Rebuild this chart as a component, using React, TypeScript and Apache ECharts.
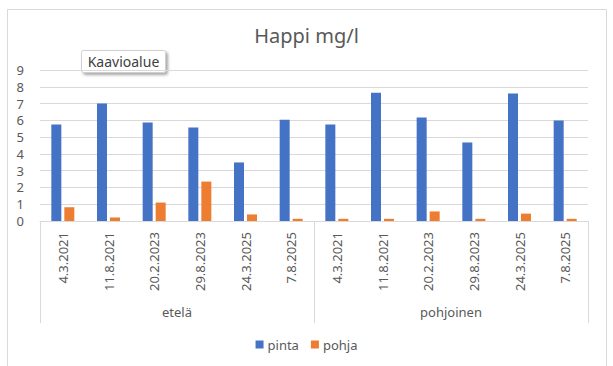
import React, { useEffect, useRef } from "react";
import * as echarts from "echarts";

const dates = [
  "4.3.2021", "11.8.2021", "20.2.2023", "29.8.2023", "24.3.2025", "7.8.2025",
  "4.3.2021", "11.8.2021", "20.2.2023", "29.8.2023", "24.3.2025", "7.8.2025",
];
const groups = ["etelä", "pohjoinen"];
const pinta = [5.75, 7.0, 5.87, 5.57, 3.49, 6.04, 5.75, 7.65, 6.17, 4.68, 7.6, 5.99];
const pohja = [0.82, 0.21, 1.1, 2.35, 0.39, 0.13, 0.13, 0.13, 0.57, 0.13, 0.44, 0.13];
const yTicks = { min: 0, max: 9, interval: 1 };

const FONT = "'Noto Sans', 'Open Sans', sans-serif";
const TXT = "#595959";
const GRID = "#d9d9d9";

export default function App() {
  const ref = useRef<HTMLDivElement>(null);
  useEffect(() => {
    document.body.style.margin = "0";
    const chart = echarts.init(ref.current!, null, { renderer: "svg" });
    chart.setOption({
      animation: false,
      backgroundColor: "#ffffff",
      textStyle: { fontFamily: FONT },
      title: {
        text: "Happi mg/l",
        left: "center",
        top: 25,
        padding: 0,
        textStyle: { fontFamily: FONT, fontSize: 20, fontWeight: "normal", color: TXT },
      },
      legend: {
        data: ["pinta", "pohja"],
        left: "center",
        top: 338,
        icon: "rect",
        itemWidth: 8,
        itemHeight: 8,
        itemGap: 12,
        padding: 0,
        textStyle: { fontFamily: FONT, fontSize: 13, color: TXT, padding: [0, 0, 0, -1] },
      },
      grid: { left: 40, right: 25, top: 70, bottom: 145, containLabel: false },
      xAxis: [
        {
          type: "category",
          data: dates,
          position: "bottom",
          axisLine: { show: true, lineStyle: { color: GRID } },
          axisTick: { show: false },
          axisLabel: {
            rotate: 90,
            interval: 0,
            margin: 11,
            fontSize: 13,
            fontFamily: FONT,
            color: TXT,
          },
        },
        {
          type: "category",
          data: groups,
          position: "bottom",
          offset: 0,
          axisLine: { show: false },
          axisTick: { show: true, length: 102, lineStyle: { color: GRID } },
          axisLabel: { margin: 84, fontSize: 13, fontFamily: FONT, color: TXT },
          splitLine: { show: false },
        },
      ],
      yAxis: {
        type: "value",
        min: yTicks.min,
        max: yTicks.max,
        interval: yTicks.interval,
        axisLine: { show: false },
        axisTick: { show: false },
        axisLabel: { margin: 16, fontSize: 13, fontFamily: FONT, color: TXT },
        splitLine: { lineStyle: { color: GRID } },
      },
      series: [
        {
          name: "pinta",
          type: "bar",
          xAxisIndex: 0,
          data: pinta,
          barWidth: 10,
          barGap: "30%",
          itemStyle: { color: "#4472c4" },
        },
        {
          name: "pohja",
          type: "bar",
          xAxisIndex: 0,
          data: pohja,
          barWidth: 10,
          barGap: "30%",
          itemStyle: { color: "#ed7d31" },
        },
      ],
      graphic: [
        {
          type: "rect",
          shape: { x: 7.5, y: 9.5, width: 599, height: 420 },
          style: { fill: "none", stroke: GRID, lineWidth: 1 },
          silent: true,
          z: 0,
        },
        {
          type: "group",
          left: 81,
          top: 50,
          z: 100,
          children: [
            {
              type: "rect",
              shape: { x: 0, y: 0, width: 84, height: 22, r: 2 },
              style: {
                fill: "#ffffff",
                stroke: "#d0d0d0",
                lineWidth: 1,
                shadowBlur: 3,
                shadowOffsetX: 2,
                shadowOffsetY: 2,
                shadowColor: "rgba(0,0,0,0.35)",
              },
            },
            {
              type: "text",
              x: 42,
              y: 11,
              style: {
                text: "Kaavioalue",
                fontFamily: FONT,
                fontSize: 14,
                fill: "#404040",
                align: "center",
                verticalAlign: "middle",
              },
            },
          ],
        },
      ],
    });
    return () => chart.dispose();
  }, []);
  return <div ref={ref} style={{ width: 613, height: 366 }} />;
}
